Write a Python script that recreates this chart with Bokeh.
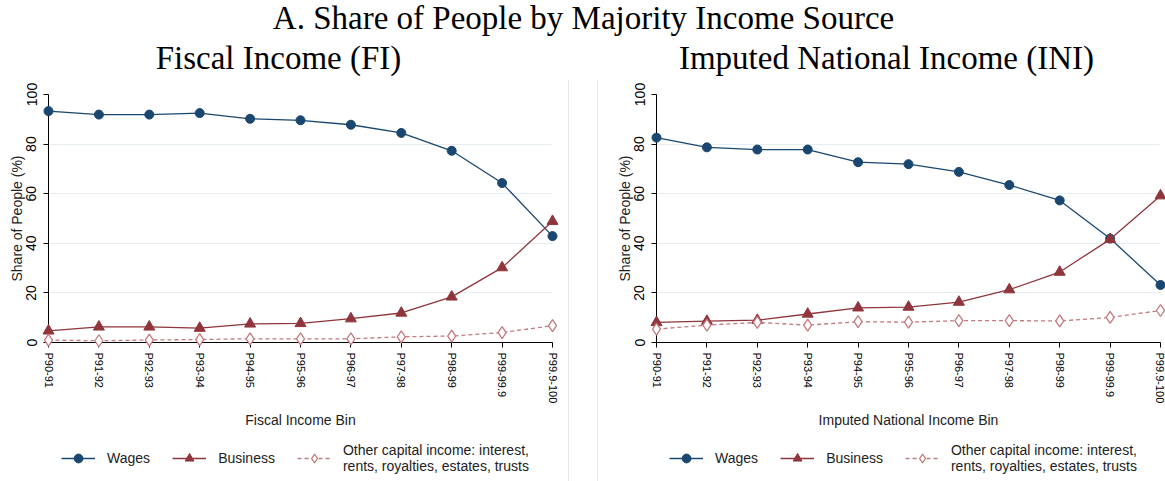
from bokeh.plotting import figure
from bokeh.layouts import row, column
from bokeh.models import Legend, LegendItem, FixedTicker, Range1d, Div, Label, Spacer
from bokeh.embed import file_html
from bokeh.resources import INLINE

# ---------------- data ----------------
bins = ["P90-91", "P91-92", "P92-93", "P93-94", "P94-95", "P95-96",
        "P96-97", "P97-98", "P98-99", "P99-99.9", "P99.9-100"]
fi_wages = [93.3, 91.9, 91.9, 92.5, 90.2, 89.6, 87.8, 84.5, 77.3, 64.3, 42.9]
fi_business = [4.7, 6.3, 6.3, 5.8, 7.5, 7.7, 9.6, 11.9, 18.4, 30.2, 48.9]
fi_other = [1.0, 0.7, 1.0, 1.2, 1.5, 1.5, 1.5, 2.3, 2.6, 4.0, 6.8]
ini_wages = [82.6, 78.7, 77.8, 77.8, 72.7, 71.9, 68.8, 63.5, 57.3, 41.9, 23.2]
ini_business = [8.1, 8.6, 9.0, 11.5, 14.0, 14.3, 16.3, 21.3, 28.4, 41.6, 59.2]
ini_other = [5.4, 7.0, 8.1, 7.0, 8.4, 8.2, 8.8, 8.8, 8.7, 10.1, 12.9]
y_ticks = [0, 20, 40, 60, 80, 100]

main_title = "A. Share of People by Majority Income Source"
sub_titles = ["Fiscal Income (FI)", "Imputed National Income (INI)"]
x_labels = ["Fiscal Income Bin", "Imputed National Income Bin"]
y_label = "Share of People (%)"
series_names = ["Wages", "Business",
                "Other capital income: interest,\nrents, royalties, estates, trusts"]

NAVY = "#1a476f"
MAROON = "#90353b"
OTHER = "#c47a7f"
GRID = "#e6eef1"
SANS = "Liberation Sans"
SERIF = "Liberation Serif"
NAN = float("nan")

xs = list(range(len(bins)))

STYLES = [
    dict(line=dict(line_color=NAVY, line_width=1.3),
         mark=dict(marker="circle", size=9, fill_color=NAVY, line_color=NAVY)),
    dict(line=dict(line_color=MAROON, line_width=1.3),
         mark=dict(marker="triangle", size=11, fill_color=MAROON, line_color=MAROON)),
    dict(line=dict(line_color=OTHER, line_width=1.3, line_dash="4 3"),
         mark=dict(marker="diamond", size=12, fill_color="white", line_color=OTHER,
                   line_width=1.3)),
]


def panel(xlab, series, left, right):
    p = figure(frame_width=504, frame_height=248, title=None,
               x_range=Range1d(0, len(bins) - 1), y_range=Range1d(0, 100),
               output_backend="svg", toolbar_location=None,
               min_border_left=left, min_border_right=right,
               min_border_top=14, min_border_bottom=93,
               outline_line_color=None, background_fill_color="white",
               border_fill_color="white")
    # axes
    p.xaxis.ticker = FixedTicker(ticks=xs)
    p.xaxis.major_label_overrides = {i: b for i, b in enumerate(bins)}
    p.xaxis.major_label_orientation = "vertical"
    p.xaxis.major_label_text_font_size = "11px"
    p.xaxis.axis_label = xlab
    p.xaxis.axis_label_standoff = 6
    p.xaxis.major_label_standoff = 5
    p.yaxis.ticker = FixedTicker(ticks=y_ticks)
    p.yaxis.major_label_orientation = "vertical"
    p.yaxis.major_label_text_font_size = "14px"
    p.yaxis.axis_label = y_label
    p.yaxis.axis_label_standoff = -1
    p.yaxis.major_label_standoff = 7
    for ax in (p.xaxis, p.yaxis):
        ax.axis_line_color = "black"
        ax.axis_line_width = 1
        ax.major_tick_line_color = "black"
        ax.major_tick_out = 5
        ax.major_tick_in = 0
        ax.minor_tick_line_color = None
        ax.major_label_text_font = SANS
        ax.major_label_text_color = "black"
        ax.axis_label_text_font = SANS
        ax.axis_label_text_font_size = "14px"
        ax.axis_label_text_font_style = "normal"
        ax.axis_label_text_color = "#222222"
    p.xgrid.visible = False
    p.ygrid.grid_line_color = GRID
    p.ygrid.grid_line_width = 1

    for ys, st in zip(series, STYLES):
        p.line(xs, ys, level="overlay", **st["line"])
        p.scatter(xs, ys, level="overlay", **st["mark"])
    return p


def legend_fig(width):
    # the legend keys are drawn by Bokeh's Legend; the proxy renderers hold no
    # drawable point (NaN), so nothing else appears in this strip
    lf = figure(width=width, height=46, title=None, x_range=Range1d(0, 1),
                y_range=Range1d(0, 1), x_axis_location=None, y_axis_location=None,
                min_border=0, outline_line_color=None, output_backend="svg",
                toolbar_location=None)
    lf.grid.visible = False
    items = []
    for name, st in zip(series_names, STYLES):
        lr = lf.line(x=[NAN], y=[NAN], **st["line"])
        sr = lf.scatter(x=[NAN], y=[NAN], **st["mark"])
        items.append(LegendItem(label=name, renderers=[lr, sr]))
    lg = Legend(items=items, orientation="horizontal", location="center",
                glyph_width=34, glyph_height=22, label_standoff=12, spacing=22,
                padding=0, margin=0, border_line_color=None,
                background_fill_alpha=0, label_text_line_height=1.0,
                label_text_font=SANS, label_text_font_size="14px",
                label_text_color="#222222")
    lf.add_layout(lg)
    return lf


p1 = panel(x_labels[0], [fi_wages, fi_business, fi_other], 48, 16)
p2 = panel(x_labels[1], [ini_wages, ini_business, ini_other], 58, 5)
lg1 = row(Spacer(width=22, height=46), legend_fig(546), spacing=0)
lg2 = row(Spacer(width=43, height=46), legend_fig(524), spacing=0)

# header with the overall title and the two panel titles (y counted from top)
header = figure(width=1165, height=80, title=None, x_range=Range1d(0, 1165),
                y_range=Range1d(80, 0), x_axis_location=None, y_axis_location=None,
                min_border=0, outline_line_color=None, output_backend="svg",
                toolbar_location=None)
header.grid.visible = False
header.add_layout(Label(x=583, y=17, text=main_title, text_align="center",
                        text_baseline="alphabetic", text_font=SERIF,
                        text_font_size="33px", text_color="black"))
for cx, t in zip([278, 886], sub_titles):
    header.add_layout(Label(x=cx, y=57, text=t, text_align="center",
                            text_baseline="alphabetic", text_font=SERIF,
                            text_font_size="33px", text_color="black"))

divider = Div(width=30, height=401, margin=0,
              styles={"border-left": "1px solid #e4ebed",
                      "border-right": "1px solid #e4ebed",
                      "box-sizing": "border-box"})

layout = column(header,
                row(column(p1, lg1, spacing=0), divider, column(p2, lg2, spacing=0),
                    spacing=0),
                spacing=0)

open("out.html", "w").write(file_html(layout, INLINE))
